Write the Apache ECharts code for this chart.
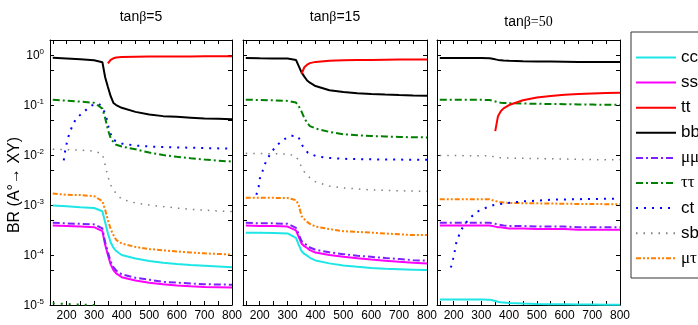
<!DOCTYPE html>
<html>
<head>
<meta charset="utf-8">
<script src="https://cdn.jsdelivr.net/npm/echarts@6/dist/echarts.min.js"></script>
<style>
  html, body { margin: 0; padding: 0; background: #fff; }
  #chart { width: 698px; height: 325px; }
</style>
</head>
<body>
<div id="chart"></div>
<script>
// common mass grid (GeV) for most channels
const mass = [150, 200, 250, 300, 330, 340, 350, 360, 370, 380, 400, 450, 500, 550, 600, 650, 700, 750, 800]

// tanβ = 5
const bb5 = [0.88, 0.85, 0.82, 0.79, 0.72, 0.36, 0.23, 0.15, 0.11, 0.1, 0.088, 0.073, 0.065, 0.06, 0.058, 0.056, 0.054, 0.053, 0.052]
const tt5 = [null, null, null, null, null, null, 0.68, 0.8, 0.86, 0.89, 0.91, 0.92, 0.93, 0.935, 0.94, 0.94, 0.945, 0.945, 0.95]
const tautau5 = [0.127, 0.122, 0.117, 0.111, 0.085, 0.055, 0.032, 0.022, 0.018, 0.016, 0.0148, 0.013, 0.0112, 0.01, 0.0092, 0.0086, 0.0081, 0.0077, 0.0074]
const sb5 = [0.013, 0.0128, 0.0125, 0.012, 0.0105, 0.0063, 0.0037, 0.0025, 0.002, 0.0017, 0.0013, 0.0011, 0.001, 0.00093, 0.00087, 0.00082, 0.00079, 0.00076, 0.00074]
const mutau5 = [0.0017, 0.0016, 0.00158, 0.0015, 0.0012, 0.0008, 0.0005, 0.00033, 0.00025, 0.0002, 0.00017, 0.000145, 0.000132, 0.000124, 0.000118, 0.000112, 0.000108, 0.000105, 0.000102]
const cc5 = [0.00098, 0.00094, 0.0009, 0.00087, 0.00075, 0.00045, 0.00027, 0.00018, 0.00014, 0.00012, 0.0001, 0.000085, 0.000076, 0.00007, 0.000066, 0.000063, 0.000061, 0.000059, 0.000057]
const ss5 = [0.00039, 0.00038, 0.00037, 0.00036, 0.0003, 0.00016, 0.0001, 0.000065, 0.00005, 0.000043, 0.000036, 0.000031, 0.000028, 0.000026, 0.0000245, 0.0000237, 0.000023, 0.0000227, 0.0000224]
const mumu5 = [0.00044, 0.00043, 0.00042, 0.00041, 0.00034, 0.00018, 0.000113, 0.000074, 0.000057, 0.000049, 0.000041, 0.000035, 0.000032, 0.000029, 0.000028, 0.000027, 0.000026, 0.0000257, 0.0000255]
const ctMass5 = [190, 194, 200, 208, 219, 234, 263, 291, 318, 333, 343, 348, 358, 370, 400, 450, 500, 600, 700, 800]
const ct5 = [0.0078, 0.0113, 0.0166, 0.0246, 0.036, 0.053, 0.074, 0.098, 0.106, 0.08, 0.064, 0.044, 0.028, 0.02, 0.017, 0.0155, 0.0148, 0.0142, 0.0138, 0.0134]
// the small green dotted trace at the bottom of the first panel
const lowMass5 = [150, 200, 250, 300, 320]
const low5 = [1.08e-5, 1.05e-5, 1.02e-5, 1.0e-5, 0.98e-5]

// tanβ = 15
const bb15 = [0.87, 0.86, 0.855, 0.85, 0.8, 0.6, 0.45, 0.37, 0.31, 0.28, 0.24, 0.197, 0.183, 0.173, 0.167, 0.162, 0.158, 0.155, 0.153]
const tt15 = [null, null, null, null, null, null, 0.42, 0.57, 0.64, 0.69, 0.73, 0.77, 0.785, 0.795, 0.8, 0.805, 0.81, 0.812, 0.815]
const tautau15 = [0.128, 0.126, 0.124, 0.121, 0.112, 0.095, 0.074, 0.055, 0.044, 0.038, 0.034, 0.029, 0.026, 0.0248, 0.024, 0.0235, 0.023, 0.0227, 0.0225]
const sb15 = [0.0108, 0.0107, 0.0106, 0.0105, 0.0095, 0.0075, 0.0058, 0.0046, 0.004, 0.0035, 0.0029, 0.0024, 0.0022, 0.0021, 0.002, 0.00197, 0.00193, 0.0019, 0.00188]
const mutau15 = [0.0014, 0.0014, 0.00139, 0.00138, 0.00125, 0.001, 0.0006, 0.00052, 0.00046, 0.00042, 0.00037, 0.00033, 0.0003, 0.00029, 0.00028, 0.00027, 0.00026, 0.00025, 0.00025]
const cc15 = [0.00028, 0.000278, 0.000275, 0.00027, 0.00022, 0.00016, 0.00012, 0.000105, 0.000097, 0.000088, 0.000078, 0.000068, 0.000062, 0.000058, 0.000055, 0.000053, 0.000052, 0.000051, 0.00005]
const ss15 = [0.00039, 0.00038, 0.00038, 0.00037, 0.00031, 0.00023, 0.00017, 0.00015, 0.000138, 0.000125, 0.000112, 0.0001, 0.000092, 0.000086, 0.000081, 0.000077, 0.000073, 0.00007, 0.000068]
const mumu15 = [0.00044, 0.00043, 0.00043, 0.00042, 0.00035, 0.00026, 0.00019, 0.00017, 0.000156, 0.000141, 0.000127, 0.000113, 0.000104, 0.000097, 0.000092, 0.000087, 0.000083, 0.000079, 0.000077]
const ctMass15 = [188, 196, 201, 212, 222, 240, 260, 290, 314, 338, 353, 373, 404, 452, 500, 600, 700, 800]
const ct15 = [0.0016, 0.0023, 0.0035, 0.0051, 0.0074, 0.011, 0.0155, 0.021, 0.0243, 0.0235, 0.0155, 0.011, 0.0094, 0.0087, 0.0084, 0.0082, 0.0081, 0.008]

// tanβ = 50
const bb50 = [0.87, 0.87, 0.87, 0.87, 0.86, 0.84, 0.82, 0.8, 0.79, 0.78, 0.77, 0.755, 0.745, 0.74, 0.735, 0.73, 0.727, 0.725, 0.722]
const tt50 = [null, null, null, null, null, null, 0.03, 0.06, 0.075, 0.086, 0.1, 0.125, 0.142, 0.152, 0.16, 0.166, 0.17, 0.174, 0.177]
const tautau50 = [0.128, 0.128, 0.127, 0.127, 0.126, 0.122, 0.118, 0.114, 0.111, 0.11, 0.109, 0.107, 0.106, 0.105, 0.104, 0.103, 0.102, 0.101, 0.101]
const sb50 = [0.0098, 0.0098, 0.0097, 0.0097, 0.0097, 0.0094, 0.009, 0.0089, 0.0088, 0.0087, 0.0087, 0.0086, 0.0085, 0.0084, 0.0083, 0.0082, 0.0081, 0.008, 0.008]
const mutau50 = [0.00131, 0.00131, 0.0013, 0.0013, 0.0013, 0.00125, 0.0012, 0.00117, 0.00113, 0.00112, 0.0011, 0.00109, 0.00108, 0.00107, 0.00106, 0.00105, 0.00105, 0.00104, 0.00104]
const cc50 = [1.29e-5, 1.29e-5, 1.29e-5, 1.29e-5, 1.28e-5, 1.24e-5, 1.2e-5, 1.16e-5, 1.13e-5, 1.12e-5, 1.1e-5, 1.07e-5, 1.05e-5, 1.04e-5, 1.03e-5, 1.02e-5, 1.02e-5, 1.01e-5, 1.01e-5]
const ss50 = [0.00039, 0.00039, 0.00039, 0.00039, 0.00039, 0.00038, 0.00037, 0.00036, 0.00036, 0.00035, 0.00034, 0.00034, 0.00033, 0.00033, 0.00033, 0.00032, 0.00032, 0.00032, 0.00032]
const mumu50 = [0.00044, 0.00044, 0.00044, 0.00044, 0.00044, 0.00043, 0.00042, 0.00041, 0.0004, 0.00039, 0.00038, 0.00038, 0.00037, 0.00037, 0.00037, 0.00036, 0.00036, 0.00036, 0.00036]
const ctMass50 = [190, 198, 204, 210, 222, 236, 260, 286, 314, 342, 368, 395, 450, 560, 650, 780]
const ct50 = [0.000056, 0.000083, 0.00012, 0.00018, 0.00027, 0.00039, 0.00056, 0.00074, 0.00087, 0.00099, 0.00105, 0.0011, 0.00118, 0.00128, 0.00131, 0.00134]

// axis ticks / labels
const xTicks = [150, 200, 250, 300, 350, 400, 450, 500, 550, 600, 650, 700, 750, 800]
const xLabels = [200, 300, 400, 500, 600, 700, 800]
const yTicks = [1e-5, 5e-5, 1e-4, 5e-4, 1e-3, 5e-3, 1e-2, 5e-2, 1e-1, 5e-1, 1]
const yLabels = [1e-5, 1e-4, 1e-3, 1e-2, 1e-1, 1]
const panelTitles = ['5', '15', '50']
const legendNames = ['cc', 'ss', 'tt', 'bb', 'μμ', 'ττ', 'ct', 'sb', 'μτ']

const styles = {
  cc: { color: '#1ee6e6', type: 'solid', width: 2 },
  ss: { color: '#ff00ff', type: 'solid', width: 2 },
  tt: { color: '#ff0000', type: 'solid', width: 2 },
  bb: { color: '#000000', type: 'solid', width: 2 },
  'μμ': { color: '#7f1fff', type: [7, 3, 2, 3], width: 2 },
  'ττ': { color: '#008000', type: [7, 3, 2, 3], width: 2 },
  ct: { color: '#0000ff', type: [2, 6], width: 2 },
  sb: { color: '#808080', type: [1.5, 6], width: 1.5 },
  'μτ': { color: '#ff8000', type: [5, 2, 2, 2, 2, 2], width: 2 }
}

const grids = [
  { left: 50, top: 40, width: 182, height: 265 },
  { left: 243, top: 40, width: 184, height: 265 },
  { left: 437, top: 40, width: 183, height: 265 }
]

const chart = echarts.init(document.getElementById('chart'), null, { renderer: 'canvas' })

const axisLineStyle = { lineStyle: { color: '#000', width: 1 } }
const xAxis = []
const yAxis = []
grids.forEach((g, i) => {
  xAxis.push({
    type: 'value', gridIndex: i, min: 140, max: 800, position: 'bottom',
    axisLine: axisLineStyle, splitLine: { show: false },
    axisTick: { inside: true, length: 4, customValues: xTicks, lineStyle: { color: '#000' } },
    axisLabel: {
      customValues: xLabels, color: '#000', fontSize: 12, margin: 5,
      fontFamily: "'Liberation Sans Narrow', 'Liberation Sans', Arial, sans-serif"
    }
  })
  xAxis.push({
    type: 'value', gridIndex: i, min: 140, max: 800, position: 'top',
    axisLine: axisLineStyle, splitLine: { show: false },
    axisTick: { inside: true, length: 4, customValues: xTicks, lineStyle: { color: '#000' } },
    axisLabel: { show: false }
  })
  yAxis.push({
    type: 'log', logBase: 10, gridIndex: i, min: 1e-5, max: 2, position: 'left',
    axisLine: { show: true, lineStyle: { color: '#000', width: 1 } }, splitLine: { show: false },
    axisTick: { inside: true, length: 4, customValues: yTicks, lineStyle: { color: '#000' } },
    axisLabel: {
      show: i === 0, customValues: yLabels, color: '#000', margin: 6,
      formatter: v => '{b|10}{s|' + Math.round(Math.log10(v)) + '}',
      rich: {
        b: { fontSize: 12, color: '#000', fontFamily: 'Liberation Sans', verticalAlign: 'bottom' },
        s: { fontSize: 8, color: '#000', fontFamily: 'Liberation Sans', verticalAlign: 'bottom', padding: [0, 0, 6, 0] }
      }
    }
  })
  yAxis.push({
    type: 'log', logBase: 10, gridIndex: i, min: 1e-5, max: 2, position: 'right',
    axisLine: { show: true, lineStyle: { color: '#000', width: 1 } }, splitLine: { show: false },
    axisTick: { inside: true, length: 4, customValues: yTicks, lineStyle: { color: '#000' } },
    axisLabel: { show: false }
  })
})

function line(name, panel, xs, ys, styleKey) {
  const s = styles[styleKey || name]
  return {
    name: styleKey ? undefined : name,
    type: 'line',
    xAxisIndex: panel * 2,
    yAxisIndex: panel * 2,
    data: xs.map((x, k) => [x, ys[k]]),
    symbol: 'none',
    showSymbol: false,
    clip: true,
    animation: false,
    lineStyle: { color: s.color, type: s.type, width: s.width, cap: 'butt' },
    itemStyle: { color: s.color }
  }
}

const series = []
const panels = [
  { bb: bb5, tt: tt5, tautau: tautau5, sb: sb5, mutau: mutau5, cc: cc5, ss: ss5, mumu: mumu5, ctX: ctMass5, ct: ct5 },
  { bb: bb15, tt: tt15, tautau: tautau15, sb: sb15, mutau: mutau15, cc: cc15, ss: ss15, mumu: mumu15, ctX: ctMass15, ct: ct15 },
  { bb: bb50, tt: tt50, tautau: tautau50, sb: sb50, mutau: mutau50, cc: cc50, ss: ss50, mumu: mumu50, ctX: ctMass50, ct: ct50 }
]
panels.forEach((p, i) => {
  series.push(line('cc', i, mass, p.cc))
  series.push(line('ss', i, mass, p.ss))
  series.push(line('μμ', i, mass, p.mumu))
  series.push(line('μτ', i, mass, p.mutau))
  series.push(line('sb', i, mass, p.sb))
  series.push(line('ct', i, p.ctX, p.ct))
  series.push(line('ττ', i, mass, p.tautau))
  series.push(line('bb', i, mass, p.bb))
  series.push(line('tt', i, mass, p.tt))
})
series.push(line('low', 0, lowMass5, low5, 'ct'))
series[series.length - 1].lineStyle.color = '#008000'
series[series.length - 1].itemStyle.color = '#008000'

const titleGraphics = panelTitles.map((t, i) => ({
  type: 'text',
  x: grids[i].left + grids[i].width / 2,
  y: i === 2 ? 22 : 17,
  style: {
    text: '{a|tan}{b|β' + (i === 2 ? '=' + t : '') + '}' + (i === 2 ? '' : '{a|=' + t + '}'),
    align: 'center',
    verticalAlign: 'middle',
    fill: '#000',
    rich: {
      a: { fontSize: 14, fontFamily: 'Liberation Sans', fill: '#000' },
      b: { fontSize: 14, fontFamily: 'Liberation Serif', fill: '#000' }
    }
  }
}))

chart.setOption({
  animation: false,
  grid: grids,
  xAxis,
  yAxis,
  legend: {
    data: legendNames,
    orient: 'vertical',
    left: 635,
    top: 49,
    padding: 0,
    itemWidth: 40,
    itemHeight: 14,
    itemGap: 8.1,
    selectedMode: false,
    itemStyle: { opacity: 0 },
    formatter: n => /[μτ]/.test(n) ? '{g|' + n + '}' : n,
    textStyle: {
      fontSize: 17, lineHeight: 14, color: '#000', fontFamily: 'Liberation Sans',
      rich: { g: { fontSize: 17, lineHeight: 14, color: '#000', fontFamily: 'Liberation Serif' } }
    }
  },
  graphic: [
    {
      type: 'rect',
      shape: { x: 631, y: 32, width: 90, height: 246 },
      style: { fill: 'none', stroke: '#333', lineWidth: 1 }
    },
    {
      type: 'text',
      x: 15,
      y: 185,
      rotation: Math.PI / 2,
      style: {
        text: 'BR (A°→ XY)',
        font: '16px "Liberation Sans", Arial, sans-serif',
        align: 'center',
        verticalAlign: 'middle',
        fill: '#000'
      }
    },
    ...titleGraphics
  ],
  series
})
</script>
</body>
</html>
